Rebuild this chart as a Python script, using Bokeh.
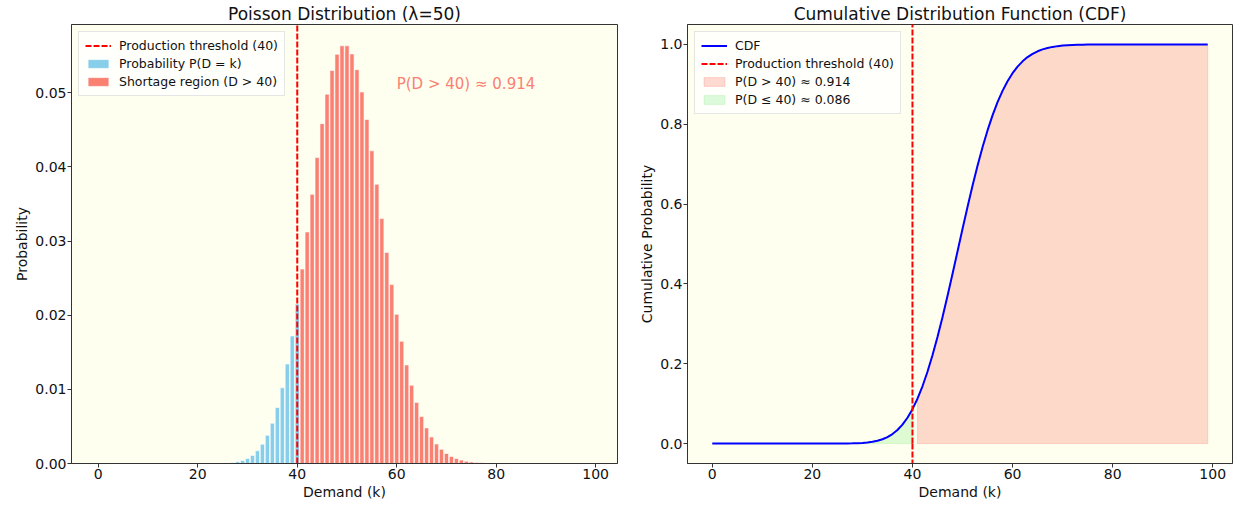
import math
from bokeh.plotting import figure
from bokeh.layouts import row
from bokeh.models import (Label, Legend, LegendItem, FixedTicker,
                          NumeralTickFormatter, Range1d)
from bokeh.embed import file_html
from bokeh.resources import INLINE

# ---------------- data ----------------
demand = list(range(100))
threshold = 40
pmf = [0.0] * 20 + [
    0.0000008, 0.0000018, 0.0000041, 0.0000089, 0.0000185,
    0.0000371, 0.0000713, 0.000132, 0.000236, 0.000406,
    0.000677, 0.00109, 0.00171, 0.00259, 0.00380,
    0.00543, 0.00755, 0.01020, 0.01342, 0.01720,
    0.02150, 0.02622, 0.03122, 0.03630, 0.04125,
    0.04583, 0.04981, 0.05299, 0.05520, 0.05633,
    0.05633, 0.05523, 0.05311, 0.05010, 0.04639,
    0.04217, 0.03765, 0.03303, 0.02847, 0.02413,
    0.02011, 0.01648, 0.01329, 0.01055, 0.00824,
    0.00634, 0.00480, 0.00358, 0.00263, 0.00191,
    0.00136, 0.00096, 0.00067, 0.00046, 0.00031,
    0.00021, 0.00014, 0.00009, 0.00006, 0.00004,
    0.00002, 0.00001] + [0.0] * 18
cdf = [0.0] * 20 + [
    0.0000013, 0.0000031, 0.0000072, 0.0000161, 0.0000346,
    0.0000717, 0.000143, 0.000275, 0.000511, 0.000917,
    0.00159, 0.00268, 0.00439, 0.00698, 0.01078,
    0.01621, 0.02376, 0.03396, 0.04738, 0.06458,
    0.08608, 0.1123, 0.1435, 0.1798, 0.2211,
    0.2669, 0.3167, 0.3697, 0.4249, 0.4812,
    0.5376, 0.5928, 0.6459, 0.6960, 0.7424,
    0.7846, 0.8222, 0.8553, 0.8837, 0.9079,
    0.9280, 0.9444, 0.9577, 0.9683, 0.9765,
    0.9829, 0.9877, 0.9912, 0.9939, 0.9958,
    0.9971, 0.9981, 0.9988, 0.9992, 0.9995,
    0.9998, 0.9999, 0.9999] + [1.0] * 22
p_short = 0.914
p_ok = 0.086

x_ticks = [0, 20, 40, 60, 80, 100]
pmf_ticks = [0.0, 0.01, 0.02, 0.03, 0.04, 0.05]
cdf_ticks = [0.0, 0.2, 0.4, 0.6, 0.8, 1.0]

FONT = "DejaVu Sans"
BG = "#FFFFF0"
EDGE = "#333333"
TXT = "#111111"


def style(p, yfmt, yticks):
    p.background_fill_color = BG
    p.border_fill_color = "white"
    p.outline_line_color = EDGE
    p.outline_line_width = 1
    p.xgrid.visible = False
    p.ygrid.visible = False
    p.title.text_font = FONT
    p.title.text_font_size = "17px"
    p.title.text_font_style = "normal"
    p.title.text_color = TXT
    p.title.align = "center"
    p.title.standoff = 2
    p.title.offset = 0
    p.xaxis.ticker = FixedTicker(ticks=x_ticks)
    p.yaxis.ticker = FixedTicker(ticks=yticks)
    p.yaxis.formatter = NumeralTickFormatter(format=yfmt)
    for ax in (p.xaxis[0], p.yaxis[0]):
        ax.axis_line_color = EDGE
        ax.major_tick_line_color = EDGE
        ax.major_tick_out = 4
        ax.major_tick_in = 0
        ax.minor_tick_out = 0
        ax.minor_tick_in = 0
        ax.major_label_text_font = FONT
        ax.major_label_text_font_size = "14px"
        ax.major_label_text_color = TXT
        ax.axis_label_text_font = FONT
        ax.axis_label_text_font_size = "14px"
        ax.axis_label_text_font_style = "normal"
        ax.axis_label_text_color = TXT
        ax.major_label_standoff = 1
        ax.axis_label_standoff = 2


def style_legend(lg):
    lg.location = "top_left"
    lg.label_text_font = FONT
    lg.label_text_font_size = "12.5px"
    lg.label_text_color = TXT
    lg.border_line_color = "#cccccc"
    lg.border_line_width = 1
    lg.background_fill_color = "white"
    lg.background_fill_alpha = 0.8
    lg.margin = 7
    lg.padding = 6
    lg.spacing = 3
    lg.label_height = 15
    lg.glyph_height = 11
    lg.glyph_width = 26
    lg.label_standoff = 8


def threshold_line(p, y_from):
    # vertical dashed threshold drawn as two rays from a point on the line
    up = p.ray(x=[threshold], y=[y_from], length=0, angle=math.pi / 2,
               line_color="red", line_width=2, line_dash="6 2")
    p.ray(x=[threshold], y=[y_from], length=0, angle=-math.pi / 2,
          line_color="red", line_width=2, line_dash="6 2")
    return up


# ---------------- left: PMF ----------------
low_k = [k for k in demand if k <= threshold]
low_p = [pmf[k] for k in low_k]
high_k = [k for k in demand if k > threshold]
high_p = [pmf[k] for k in high_k]

p1 = figure(width=627, height=502, output_backend="svg", toolbar_location=None,
            title="Poisson Distribution (\u03bb=50)",
            x_range=Range1d(-5.39, 104.39), y_range=Range1d(0, 0.0592),
            x_axis_label="Demand (k)", y_axis_label="Probability",
            min_border_left=71, min_border_right=10, min_border_top=17,
            min_border_bottom=38)
style(p1, "0.00", pmf_ticks)

r_blue = p1.vbar(x=low_k, top=low_p, bottom=0, width=0.85, fill_color="skyblue",
                 line_color="white", line_width=0.6)
r_red = p1.vbar(x=high_k, top=high_p, bottom=0, width=0.85, fill_color="salmon",
                line_color="white", line_width=0.6)
r_thr1 = threshold_line(p1, 0.0)
p1.add_layout(Label(x=60, y=0.0499, text=f"P(D > {threshold}) \u2248 {p_short:.3f}",
                    text_color="salmon", text_font=FONT, text_font_size="15px",
                    text_baseline="bottom"))
lg1 = Legend(items=[
    LegendItem(label="Production threshold (40)", renderers=[r_thr1]),
    LegendItem(label="Probability P(D = k)", renderers=[r_blue]),
    LegendItem(label="Shortage region (D > 40)", renderers=[r_red]),
])
style_legend(lg1)
p1.add_layout(lg1)

# ---------------- right: CDF ----------------
ok_k = [k for k in demand if k <= threshold]
ok_c = [cdf[k] for k in ok_k]
sh_k = [k for k in demand if k > threshold]
sh_c = [cdf[k] for k in sh_k]

p2 = figure(width=606, height=502, output_backend="svg", toolbar_location=None,
            title="Cumulative Distribution Function (CDF)",
            x_range=Range1d(-4.95, 103.95), y_range=Range1d(-0.05, 1.05),
            x_axis_label="Demand (k)", y_axis_label="Cumulative Probability",
            min_border_left=60, min_border_right=1, min_border_top=17,
            min_border_bottom=38)
style(p2, "0.0", cdf_ticks)

r_pink = p2.patch(x=sh_k + sh_k[::-1], y=sh_c + [0.0] * len(sh_k),
                  fill_color="salmon", fill_alpha=0.3,
                  line_color="salmon", line_alpha=0.3, line_width=1)
r_green = p2.patch(x=ok_k + ok_k[::-1], y=ok_c + [0.0] * len(ok_k),
                   fill_color="lightgreen", fill_alpha=0.3,
                   line_color="lightgreen", line_alpha=0.3, line_width=1)
r_cdf = p2.line(x=demand, y=cdf, line_color="blue", line_width=2)
r_thr2 = threshold_line(p2, 0.0)
lg2 = Legend(items=[
    LegendItem(label="CDF", renderers=[r_cdf]),
    LegendItem(label="Production threshold (40)", renderers=[r_thr2]),
    LegendItem(label=f"P(D > {threshold}) \u2248 {p_short:.3f}", renderers=[r_pink]),
    LegendItem(label=f"P(D \u2264 {threshold}) \u2248 {p_ok:.3f}", renderers=[r_green]),
])
style_legend(lg2)
p2.add_layout(lg2)

layout = row(p1, p2)
open("out.html", "w").write(file_html(layout, INLINE))
